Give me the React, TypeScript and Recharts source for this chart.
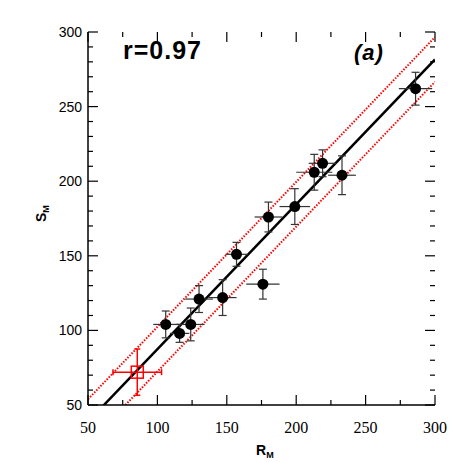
import { ScatterChart, Scatter, XAxis, YAxis, ErrorBar, ReferenceLine } from "recharts";

// measured pairs (black) with their errors
const rm = [106, 116, 124, 130, 147, 157, 176, 180, 199, 213, 219, 233, 286];
const sm = [104, 98, 104, 121, 122, 151, 131, 176, 183, 206, 212, 204, 262];
const rmErr = [9, 7, 10, 10, 10, 8, 12, 10, 11, 13, 10, 10, 12];
const smErr = [9, 6, 11, 9, 12, 8, 10, 10, 12, 12, 9, 13, 11];

// the red open square
const redRm = [85.5];
const redSm = [72];
const redRmErr = [17.5];
const redSmErr = [15.5];

// fit line and band
const slope = 0.971;
const intercept = -9.7;
const band = 15;
const lineX = [50, 300];

const xMajor = [50, 100, 150, 200, 250, 300];
const xMinor = [75, 125, 175, 225, 275];
const yMajor = [50, 100, 150, 200, 250, 300];
const yMinor = [60, 70, 80, 90, 110, 120, 130, 140, 160, 170, 180, 190, 210, 220, 230, 240, 260, 270, 280, 290];

const points = rm.map((x, i) => ({ x, y: sm[i], ex: rmErr[i], ey: smErr[i] }));
const redPoints = redRm.map((x, i) => ({ x, y: redSm[i], ex: redRmErr[i], ey: redSmErr[i] }));

const fitSeg = (off: number) => lineX.map((x) => ({ x, y: slope * x + intercept + off }));

// tick marks drawn as tiny scatter marks sitting on the frame
const xTickMarks = (y: number) => [
  ...xMajor.map((x) => ({ x, y, len: 10 })),
  ...xMinor.map((x) => ({ x, y, len: 5 })),
];
const yTickMarks = (x: number) => [
  ...yMajor.map((y) => ({ x, y, len: 10 })),
  ...yMinor.map((y) => ({ x, y, len: 5 })),
];

const sans = "'Liberation Sans', Arial, Helvetica, sans-serif";
const frame = { stroke: "#000", strokeWidth: 1.5 };

function BottomLabel(props: any) {
  const { x, y, payload } = props;
  return (
    <text x={x} y={y + 28} textAnchor="middle" fontFamily="'Liberation Serif', 'Times New Roman', serif" fontSize={16} fill="#000">
      {payload.value}
    </text>
  );
}

function LeftLabel(props: any) {
  const { x, y, payload } = props;
  return (
    <text x={x - 6} y={y + 5} textAnchor="end" fontFamily={sans} fontSize={14} fill="#000">
      {payload.value}
    </text>
  );
}

const noLabel = () => <g />;

const Dot = (props: any) => <circle cx={props.cx} cy={props.cy} r={5.5} fill="#000" />;
const Square = (props: any) => (
  <rect x={props.cx - 6} y={props.cy - 6} width={12} height={12} fill="none" stroke="#ff0000" strokeWidth={1.5} />
);
const UpTick = (p: any) => <line x1={p.cx} y1={p.cy} x2={p.cx} y2={p.cy - p.payload.len} stroke="#000" strokeWidth={1.2} />;
const DownTick = (p: any) => <line x1={p.cx} y1={p.cy} x2={p.cx} y2={p.cy + p.payload.len} stroke="#000" strokeWidth={1.2} />;
const RightTick = (p: any) => <line x1={p.cx} y1={p.cy} x2={p.cx + p.payload.len} y2={p.cy} stroke="#000" strokeWidth={1.2} />;
const LeftTick = (p: any) => <line x1={p.cx} y1={p.cy} x2={p.cx - p.payload.len} y2={p.cy} stroke="#000" strokeWidth={1.2} />;

export default function App() {
  return (
    <div style={{ position: "absolute", left: 0, top: 0, width: 463, height: 463, background: "#fff" }}>
      <ScatterChart width={463} height={463} margin={{ top: 32, right: 28, left: 0, bottom: 0 }}>
        <XAxis
          type="number"
          dataKey="x"
          domain={[50, 300]}
          ticks={xMajor}
          height={58}
          tickSize={0}
          tickMargin={0}
          tickLine={false}
          interval={0}
          tick={<BottomLabel />}
          axisLine={frame}
        />
        <XAxis
          xAxisId="top"
          orientation="top"
          type="number"
          dataKey="x"
          domain={[50, 300]}
          ticks={xMajor}
          height={0}
          tickLine={false}
          tick={noLabel}
          axisLine={frame}
        />
        <YAxis
          type="number"
          dataKey="y"
          domain={[50, 300]}
          ticks={yMajor}
          width={88}
          tickSize={0}
          tickMargin={0}
          tickLine={false}
          interval={0}
          tick={<LeftLabel />}
          axisLine={frame}
        />
        <YAxis
          yAxisId="right"
          orientation="right"
          type="number"
          dataKey="y"
          domain={[50, 300]}
          ticks={yMajor}
          width={0}
          tickLine={false}
          tick={noLabel}
          axisLine={frame}
        />
        <ReferenceLine segment={fitSeg(band)} ifOverflow="hidden" stroke="#ff0000" strokeWidth={2} strokeDasharray="1.5 1.5" />
        <ReferenceLine segment={fitSeg(-band)} ifOverflow="hidden" stroke="#ff0000" strokeWidth={2} strokeDasharray="1.5 1.5" />
        <ReferenceLine segment={fitSeg(0)} ifOverflow="hidden" stroke="#000" strokeWidth={2.5} />
        <Scatter data={xTickMarks(50)} shape={UpTick} isAnimationActive={false} />
        <Scatter data={xTickMarks(300)} shape={DownTick} isAnimationActive={false} />
        <Scatter data={yTickMarks(50)} shape={RightTick} isAnimationActive={false} />
        <Scatter data={yTickMarks(300)} shape={LeftTick} isAnimationActive={false} />
        <Scatter data={points} shape={<Dot />} isAnimationActive={false}>
          <ErrorBar dataKey="ex" direction="x" width={0} stroke="#333" strokeWidth={1.2} isAnimationActive={false} />
          <ErrorBar dataKey="ey" direction="y" width={4} stroke="#333" strokeWidth={1.2} isAnimationActive={false} />
        </Scatter>
        <Scatter data={redPoints} shape={<Square />} isAnimationActive={false}>
          <ErrorBar dataKey="ex" direction="x" width={3} stroke="#ff0000" strokeWidth={1.5} isAnimationActive={false} />
          <ErrorBar dataKey="ey" direction="y" width={3} stroke="#ff0000" strokeWidth={1.5} isAnimationActive={false} />
        </Scatter>
      </ScatterChart>
      <svg width={463} height={463} style={{ position: "absolute", left: 0, top: 0, pointerEvents: "none" }}>
        <text x={123} y={59} fontFamily={sans} fontWeight="bold" fontSize={25} letterSpacing={1} fill="#000">
          r=0.97
        </text>
        <text x={354} y={60} fontFamily={sans} fontWeight="bold" fontStyle="italic" fontSize={22} letterSpacing={1} fill="#000">
          (a)
        </text>
        <text x={256} y={455} fontFamily={sans} fontWeight="bold" fontSize={14} fill="#000">
          R<tspan fontSize={9} dy={3}>M</tspan>
        </text>
        <text transform="translate(46,222) rotate(-90)" fontFamily={sans} fontWeight="bold" fontSize={14} fill="#000">
          S<tspan fontSize={9} dy={3}>M</tspan>
        </text>
      </svg>
    </div>
  );
}
